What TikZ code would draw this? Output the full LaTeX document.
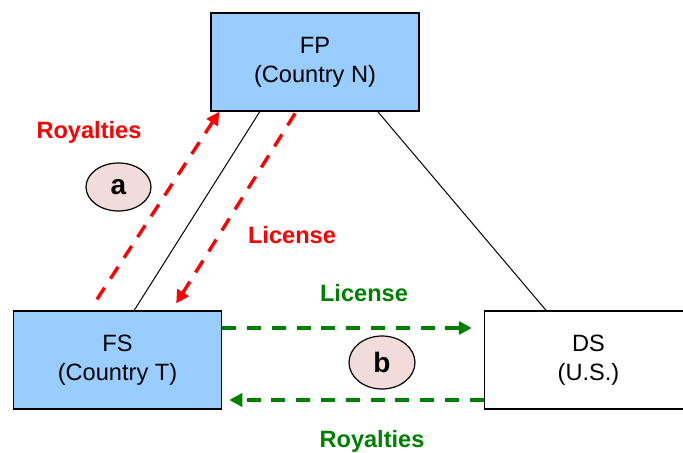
\documentclass[tikz,border=0pt]{standalone}
\usepackage{fontspec}
\setmainfont{Liberation Sans}
\usetikzlibrary{arrows.meta, calc, shapes.geometric}

\definecolor{boxblue}{RGB}{153,204,255}
\definecolor{tagpink}{RGB}{242,220,219}
\definecolor{flowgreen}{RGB}{0,128,0}

\tikzset{
    entity/.style={draw, line width=0.75pt, minimum width=104pt, minimum height=49pt,
        align=center, font=\fontsize{11.8}{14.5}\selectfont},
    tag/.style={draw, ellipse, line width=0.6pt, fill=tagpink, inner sep=0pt,
        font=\fontsize{14}{16}\selectfont\bfseries},
    flow/.style={line width=1.7pt, dash pattern=on 7pt off 5.4pt,
        -{Triangle[length=6.5pt, width=6.5pt]}},
    flowlabel/.style={font=\fontsize{11.8}{14}\selectfont\bfseries},
}

\begin{document}
\begin{tikzpicture}[x=0.5pt, y=-0.5pt]
    \clip (0, 0) rectangle (683, 453);

    % entities
    \node[entity, fill=boxblue] (fp) at (315, 62) {FP\\(Country N)};
    \node[entity, fill=boxblue] (fs) at (117.5, 360) {FS\\(Country T)};
    \node[entity, fill=white] (ds) at (588.5, 360) {DS\\(U.S.)};

    % ownership lines
    \draw[line width=0.5pt] ($(fp.south west)!0.236!(fp.south east)$) -- ($(fs.north west)!0.58!(fs.north east)$);
    \draw[line width=0.5pt] ($(fp.south west)!0.80!(fp.south east)$) -- ($(ds.north west)!0.297!(ds.north east)$);

    % a: FS <-> FP
    \draw[flow, red, shorten <=6.5pt] ($(fs.north west)!0.368!(fs.north east)$) -- ($(fp.south west)!0.043!(fp.south east)$);
    \draw[flow, red, shorten <=1pt, shorten >=4pt] ($(fp.south west)!0.41!(fp.south east)$) -- ($(fs.north west)!0.76!(fs.north east)$);
    \node[flowlabel, red] (royA) at (89, 132) {Royalties};
    \node[flowlabel, red] (licA) at (292, 235) {License};
    \node[tag, minimum width=32.5pt, minimum height=24pt] (a) at (118.5, 187) {a};

    % b: FS <-> DS
    \draw[flow, flowgreen, shorten >=6pt] ([yshift=16pt]fs.east) -- ([yshift=16pt]ds.west);
    \draw[flow, flowgreen, shorten >=3.5pt] ([yshift=-20pt]ds.west) -- ([yshift=-20pt]fs.east);
    \node[flowlabel, flowgreen] (licB) at (364, 293) {License};
    \node[flowlabel, flowgreen] (royB) at (372, 441) {Royalties};
    \node[tag, minimum width=33pt, minimum height=26.5pt] (b) at (382, 362.5) {b};
\end{tikzpicture}
\end{document}
